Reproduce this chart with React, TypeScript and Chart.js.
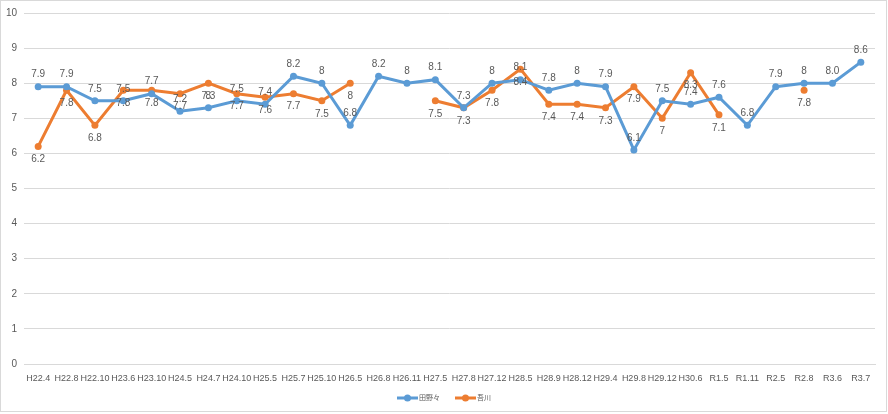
import React, { useEffect, useRef } from "react";
import { Chart, registerables } from "chart.js";

Chart.register(...registerables);

const categories = [
  "H22.4", "H22.8", "H22.10", "H23.6", "H23.10", "H24.5", "H24.7", "H24.10", "H25.5", "H25.7",
  "H25.10", "H26.5", "H26.8", "H26.11", "H27.5", "H27.8", "H27.12", "H28.5", "H28.9", "H28.12",
  "H29.4", "H29.8", "H29.12", "H30.6", "R1.5", "R1.11", "R2.5", "R2.8", "R3.6", "R3.7",
];

const tanonoValues: (number | null)[] = [
  7.9, 7.9, 7.5, 7.5, 7.7, 7.2, 7.3, 7.5, 7.4, 8.2,
  8.0, 6.8, 8.2, 8.0, 8.1, 7.3, 8.0, 8.1, 7.8, 8.0,
  7.9, 6.1, 7.5, 7.4, 7.6, 6.8, 7.9, 8.0, 8.0, 8.6,
];

const agawaValues: (number | null)[] = [
  6.2, 7.8, 6.8, 7.8, 7.8, 7.7, 8.0, 7.7, 7.6, 7.7,
  7.5, 8.0, null, null, 7.5, 7.3, 7.8, 8.4, 7.4, 7.4,
  7.3, 7.9, 7.0, 8.3, 7.1, null, null, 7.8, null, null,
];

const tanonoLabelOverrides: Record<string, string> = { "R3.6": "8.0" };

const seriesNames = ["田野々", "吾川"];
const seriesColors = ["#5B9BD5", "#ED7D31"];

const TEXT = "#595959";
const GRID = "#D9D9D9";
const FONT = '"Liberation Sans", "Noto Sans CJK JP", sans-serif';

const bgPlugin = {
  id: "bgBorder",
  beforeDraw(chart: any) {
    const ctx = chart.ctx;
    ctx.save();
    ctx.fillStyle = "#ffffff";
    ctx.fillRect(0, 0, chart.width, chart.height);
    ctx.strokeStyle = GRID;
    ctx.lineWidth = 1;
    ctx.strokeRect(0.5, 0.5, 886, 411);
    ctx.restore();
  },
};

const labelPlugin = {
  id: "pointLabels",
  afterDatasetsDraw(chart: any) {
    const ctx = chart.ctx;
    ctx.save();
    ctx.font = `10px ${FONT}`;
    ctx.fillStyle = TEXT;
    ctx.textAlign = "center";
    ctx.textBaseline = "middle";
    chart.data.datasets.forEach((ds: any, di: number) => {
      const meta = chart.getDatasetMeta(di);
      meta.data.forEach((el: any, i: number) => {
        const v = ds.data[i];
        if (v == null) return;
        const cat = chart.data.labels[i];
        let text = String(v);
        if (di === 0 && tanonoLabelOverrides[cat]) text = tanonoLabelOverrides[cat];
        const dy = di === 0 ? -12 : 13;
        ctx.fillText(text, el.x, el.y + dy);
      });
    });
    ctx.restore();
  },
};

const legendPlugin = {
  id: "customLegend",
  afterDraw(chart: any) {
    const ctx = chart.ctx;
    ctx.save();
    ctx.font = `7px ${FONT}`;
    ctx.textBaseline = "middle";
    ctx.textAlign = "left";
    const y = 398;
    const lineW = 21;
    const gap = 1;
    const itemGap = 15;
    const items = chart.data.datasets.map((ds: any) => ({
      label: ds.label,
      color: ds.borderColor,
      w: lineW + gap + ctx.measureText(ds.label).width,
    }));
    const total = items.reduce((s: number, it: any) => s + it.w, 0) + itemGap * (items.length - 1);
    let x = Math.round(chart.width / 2 - total / 2);
    items.forEach((it: any) => {
      ctx.strokeStyle = it.color;
      ctx.lineWidth = 3;
      ctx.beginPath();
      ctx.moveTo(x, y);
      ctx.lineTo(x + lineW, y);
      ctx.stroke();
      ctx.fillStyle = it.color;
      ctx.beginPath();
      ctx.arc(x + lineW / 2, y, 3.5, 0, Math.PI * 2);
      ctx.fill();
      ctx.fillStyle = TEXT;
      ctx.fillText(it.label, x + lineW + gap, y + 0.5);
      x += it.w + itemGap;
    });
    ctx.restore();
  },
};

export default function App() {
  const canvasRef = useRef<HTMLCanvasElement | null>(null);

  useEffect(() => {
    document.body.style.margin = "0";
    const canvas = canvasRef.current;
    if (!canvas) return;
    const chart = new Chart(canvas, {
      type: "line",
      data: {
        labels: categories,
        datasets: [
          {
            label: seriesNames[0],
            data: tanonoValues,
            borderColor: seriesColors[0],
            backgroundColor: seriesColors[0],
            borderWidth: 3,
            pointRadius: 3.5,
            pointBorderWidth: 0,
            pointHoverRadius: 3.5,
            tension: 0,
            spanGaps: false,
          },
          {
            label: seriesNames[1],
            data: agawaValues,
            borderColor: seriesColors[1],
            backgroundColor: seriesColors[1],
            borderWidth: 3,
            pointRadius: 3.5,
            pointBorderWidth: 0,
            pointHoverRadius: 3.5,
            tension: 0,
            spanGaps: false,
          },
        ],
      },
      options: {
        responsive: false,
        animation: false,
        layout: { padding: { top: 10, right: 13, left: 0, bottom: 0 } },
        plugins: {
          legend: { display: false },
          tooltip: { enabled: false },
        },
        scales: {
          x: {
            offset: true,
            grid: { display: false, drawTicks: false },
            border: { display: true, color: GRID, width: 1 },
            ticks: {
              color: TEXT,
              font: { size: 9, family: FONT },
              maxRotation: 0,
              minRotation: 0,
              autoSkip: false,
              padding: 9,
            },
            afterFit(scale: any) {
              scale.height = 50;
            },
          },
          y: {
            min: 0,
            max: 10,
            ticks: {
              stepSize: 1,
              color: TEXT,
              font: { size: 10, family: FONT },
              padding: 7,
            },
            grid: { color: GRID, lineWidth: 1, drawTicks: false },
            border: { display: false },
            afterFit(scale: any) {
              scale.width = 24;
            },
          },
        },
      },
      plugins: [bgPlugin, labelPlugin, legendPlugin],
    });
    return () => chart.destroy();
  }, []);

  return (
    <div style={{ width: 888, height: 414 }}>
      <canvas ref={canvasRef} width={888} height={414} />
    </div>
  );
}
